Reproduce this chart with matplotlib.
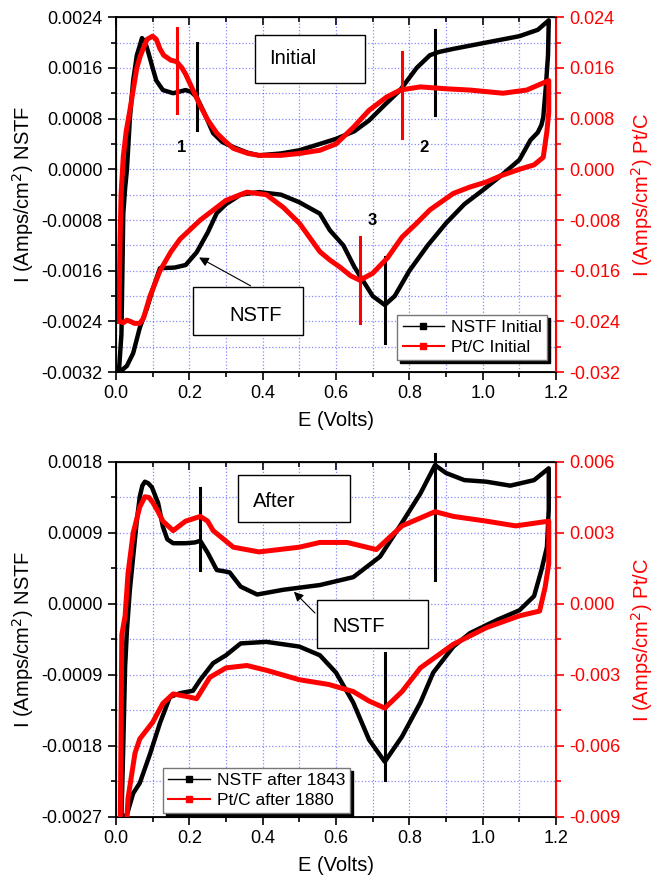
import numpy as np
import matplotlib
matplotlib.use("Agg")
import matplotlib.pyplot as plt
from matplotlib.lines import Line2D
from matplotlib.patches import Rectangle
from matplotlib.ticker import FuncFormatter, FormatStrFormatter, MultipleLocator

plt.rcParams['font.family'] = ['Liberation Sans', 'DejaVu Sans']

# ---- top panel data (NSTF on left axis, Pt/C on right axis) ----
nstf_i_x = [0.008, 0.015, 0.02, 0.025, 0.03, 0.038, 0.047, 0.057, 0.065, 0.071, 0.08, 0.088, 0.10, 0.11,
            0.128, 0.156, 0.19, 0.205, 0.22, 0.24, 0.265, 0.29, 0.32, 0.36, 0.39, 0.45, 0.5, 0.556, 0.6,
            0.65, 0.69, 0.73, 0.775, 0.82, 0.856, 0.88, 0.92, 1.01, 1.10, 1.15, 1.18,
            1.178, 1.172, 1.165, 1.16, 1.15, 1.13, 1.1, 1.05, 1.0, 0.95, 0.9, 0.85, 0.8, 0.76, 0.733, 0.7,
            0.65, 0.62, 0.583, 0.556, 0.5, 0.45, 0.39, 0.34, 0.3, 0.275, 0.25, 0.22, 0.19, 0.16, 0.12,
            0.1, 0.084, 0.065, 0.047, 0.03, 0.01]
nstf_i_y = [-0.0032, -0.0026, -0.0007, -0.0003, 0.0, 0.0008, 0.0014, 0.0018, 0.00195, 0.00207, 0.0020,
            0.00185, 0.0016, 0.0014, 0.00125, 0.0012, 0.00125, 0.00122, 0.00114, 0.0009, 0.00057, 0.00043,
            0.00035, 0.00026, 0.00022, 0.00025, 0.0003, 0.0004, 0.00048, 0.0006, 0.00077, 0.001, 0.00125,
            0.0016, 0.0018, 0.00185, 0.0019, 0.002, 0.0021, 0.0022, 0.00235,
            0.0018, 0.0013, 0.00082, 0.0007, 0.00058, 0.00046, 0.00015, -0.0001, -0.00033, -0.00055,
            -0.00085, -0.0012, -0.0016, -0.002, -0.00214, -0.002, -0.00154, -0.0012, -0.00096, -0.0007,
            -0.00052, -0.0004, -0.00036, -0.0004, -0.00055, -0.00069, -0.001, -0.00131, -0.00151,
            -0.00155, -0.00156, -0.0019, -0.0022, -0.0025, -0.0029, -0.0031, -0.0032]

ptc_i_x = [0.008, 0.011, 0.014, 0.02, 0.028, 0.038, 0.047, 0.057, 0.066, 0.074, 0.085, 0.10, 0.11, 0.12,
           0.13, 0.15, 0.165, 0.18, 0.19, 0.21, 0.23, 0.25, 0.275, 0.30, 0.32, 0.36, 0.39, 0.45, 0.50,
           0.556, 0.6, 0.647, 0.69, 0.738, 0.775, 0.83, 0.9, 0.965, 1.055, 1.12, 1.18,
           1.18, 1.175, 1.165, 1.14, 1.10, 1.05, 1.01, 0.965, 0.92, 0.856, 0.82, 0.78, 0.74, 0.70, 0.665,
           0.64, 0.61, 0.583, 0.556, 0.5, 0.456, 0.41, 0.357, 0.30, 0.23, 0.175, 0.15, 0.12, 0.093, 0.075,
           0.065, 0.05, 0.04, 0.03, 0.02, 0.011]
ptc_i_y = [-0.024, -0.012, -0.004, 0.002, 0.006, 0.0093, 0.0125, 0.016, 0.0178, 0.019, 0.0205, 0.021,
           0.0205, 0.019, 0.018, 0.0172, 0.017, 0.016, 0.015, 0.0125, 0.010, 0.0078, 0.0057, 0.0043,
           0.0033, 0.0025, 0.0022, 0.0022, 0.0025, 0.003, 0.004, 0.0066, 0.0093, 0.0114, 0.0125, 0.013,
           0.0127, 0.0125, 0.012, 0.0125, 0.014,
           0.009, 0.006, 0.0019, 0.0007, 0.0, -0.001, -0.002, -0.0028, -0.0038, -0.0064, -0.0085, -0.0107,
           -0.014, -0.0164, -0.0175, -0.0168, -0.0154, -0.0143, -0.013, -0.0085, -0.006, -0.004, -0.0036,
           -0.0049, -0.008, -0.011, -0.013, -0.016, -0.020, -0.0235, -0.0243, -0.0243, -0.024, -0.0238,
           -0.0242, -0.024]

# ---- bottom panel data ----
nstf_a_x = [0.015, 0.02, 0.025, 0.03, 0.038, 0.047, 0.057, 0.065, 0.072, 0.079, 0.088, 0.098, 0.115,
            0.128, 0.14, 0.156, 0.19, 0.215, 0.23, 0.25, 0.275, 0.3, 0.31, 0.34, 0.385, 0.456, 0.556,
            0.647, 0.72, 0.78, 0.83, 0.87, 0.90, 0.95, 1.01, 1.075, 1.14, 1.18,
            1.18, 1.175, 1.16, 1.14, 1.10, 1.04, 0.965, 0.92, 0.865, 0.83, 0.78, 0.733, 0.69, 0.647, 0.60,
            0.556, 0.50, 0.41, 0.34, 0.30, 0.265, 0.23, 0.21, 0.175, 0.147, 0.12, 0.093, 0.065, 0.047,
            0.03, 0.018]
nstf_a_y = [-0.0027, -0.0018, -0.0008, -0.00033, 0.00018, 0.0006, 0.00106, 0.00136, 0.0015, 0.00155,
            0.00153, 0.00148, 0.00128, 0.00098, 0.00082, 0.00077, 0.00077, 0.00078, 0.0008, 0.00065,
            0.00043, 0.00041, 0.0004, 0.00022, 0.00012, 0.00018, 0.00024, 0.00034, 0.0006, 0.00103,
            0.0014, 0.00176, 0.00166, 0.00157, 0.00155, 0.0015, 0.00157, 0.00172,
            0.0012, 0.00072, 0.00043, 0.0001, -0.00008, -0.0002, -0.00037, -0.00054, -0.00087, -0.00125,
            -0.00168, -0.002, -0.00172, -0.00125, -0.00087, -0.00065, -0.00054, -0.00048, -0.0005,
            -0.00065, -0.00075, -0.00096, -0.0011, -0.00113, -0.00118, -0.00151, -0.0019, -0.00227,
            -0.0024, -0.00267, -0.0027]

ptc_a_x = [0.012, 0.016, 0.025, 0.033, 0.047, 0.065, 0.079, 0.09, 0.10, 0.115, 0.128, 0.156, 0.19, 0.23,
           0.25, 0.265, 0.32, 0.39, 0.5, 0.556, 0.63, 0.71, 0.78, 0.87, 0.92, 1.01, 1.09, 1.18,
           1.18, 1.17, 1.155, 1.10, 1.01, 0.92, 0.83, 0.78, 0.733, 0.69, 0.647, 0.58, 0.50, 0.41, 0.357,
           0.30, 0.256, 0.22, 0.19, 0.156, 0.128, 0.10, 0.065, 0.052, 0.044, 0.033, 0.03]
ptc_a_y = [-0.009, -0.0013, -0.0005, 0.0013, 0.003, 0.0041, 0.00453, 0.0045, 0.0043, 0.0039, 0.0035,
           0.0031, 0.0035, 0.0037, 0.0035, 0.0031, 0.0024, 0.0022, 0.0024, 0.0026, 0.0026, 0.0023, 0.0033,
           0.0039, 0.0037, 0.0035, 0.0033, 0.0035,
           0.0017, 0.0007, -0.0003, -0.0005, -0.001, -0.0017, -0.0027, -0.0037, -0.0044, -0.0041, -0.0037,
           -0.0034, -0.0032, -0.0028, -0.0026, -0.0027, -0.0031, -0.004, -0.0039, -0.0038, -0.0042,
           -0.005, -0.0057, -0.0063, -0.0071, -0.0082, -0.009]

# peak marker bars: (x, low, high)
bars_top_black = [(0.22, 0.00062, 0.0020), (0.87, 0.00085, 0.0022), (0.733, -0.00274, -0.00139)]
bars_top_red = [(0.166, 0.0089, 0.0223), (0.78, 0.005, 0.0185), (0.665, -0.0243, -0.0107)]
bars_bot_black = [(0.23, 0.00043, 0.00147), (0.87, 0.0003, 0.0019), (0.733, -0.00223, -0.00062)]

left_ticks_top = np.round(np.arange(-0.0032, 0.00241, 0.0008), 5)
right_ticks_top = np.round(np.arange(-0.032, 0.0241, 0.008), 4)
left_ticks_bot = np.round(np.arange(-0.0027, 0.00181, 0.0009), 5)
right_ticks_bot = np.round(np.arange(-0.009, 0.00601, 0.003), 4)

TICK_FS = 13
LAB_FS = 14.5

fig = plt.figure(figsize=(6.55, 8.84), dpi=100)
fig.set_facecolor('w')
ax_top = fig.add_axes([0.177, 0.579, 0.672, 0.4016])
ax_bot = fig.add_axes([0.177, 0.0758, 0.672, 0.4016])


def fmt(n):
    return FuncFormatter(lambda v, p: f'{round(v, 6) + 0.0:.{n}f}')


def setup(ax, lticks, rticks, ln, rn):
    ax2 = ax.twinx()
    ax.set_xlim(0, 1.2)
    ax.set_ylim(lticks[0], lticks[-1])
    ax2.set_ylim(rticks[0], rticks[-1])
    ax.set_xticks(np.round(np.arange(0, 1.21, 0.2), 1))
    ax.xaxis.set_minor_locator(MultipleLocator(0.1))
    ax.set_yticks(lticks)
    ax.yaxis.set_minor_locator(MultipleLocator((lticks[1] - lticks[0]) / 2))
    ax2.set_yticks(rticks)
    ax2.yaxis.set_minor_locator(MultipleLocator((rticks[1] - rticks[0]) / 2))
    ax.xaxis.set_major_formatter(FormatStrFormatter('%.1f'))
    ax.yaxis.set_major_formatter(fmt(ln))
    ax2.yaxis.set_major_formatter(fmt(rn))
    ax.tick_params(which='both', direction='out', labelsize=TICK_FS, width=1.2)
    ax.tick_params(which='major', length=6)
    ax.tick_params(which='minor', length=3.5)
    ax2.tick_params(which='both', direction='out', colors='red', labelsize=TICK_FS, width=1.2)
    ax2.tick_params(which='major', length=6)
    ax2.tick_params(which='minor', length=3.5)
    ax2.spines['right'].set_color('red')
    ax2.spines['right'].set_linewidth(1.5)
    for s in ['left', 'top', 'bottom']:
        ax.spines[s].set_linewidth(1.3)
    top = ax.secondary_xaxis('top')
    top.set_xticks(np.round(np.arange(0, 1.21, 0.2), 1))
    top.xaxis.set_minor_locator(MultipleLocator(0.1))
    top.tick_params(which='both', direction='in', labeltop=False, width=1.2)
    top.tick_params(which='major', length=6)
    top.tick_params(which='minor', length=3.5)
    ax.grid(True, which='both', color='#3a3aff', linestyle=':', linewidth=0.9, alpha=0.6)
    ax.set_xlabel('E (Volts)', fontsize=LAB_FS, labelpad=6)
    ax.set_ylabel('I (Amps/cm$^2$) NSTF', fontsize=LAB_FS, labelpad=4)
    ax2.set_ylabel('I (Amps/cm$^2$) Pt/C', fontsize=LAB_FS, color='red', labelpad=6)
    return ax2


def box(ax2, ax, x0, y0, w, h, label, tx, ty):
    ax2.add_patch(Rectangle((x0, y0), w, h, transform=ax.transData, facecolor='white',
                            edgecolor='black', linewidth=1.0, zorder=5))
    ax2.text(tx, ty, label, transform=ax.transData, fontsize=14.5, ha='left', va='center', zorder=6)


# ---------------- top panel ----------------
ax2t = setup(ax_top, left_ticks_top, right_ticks_top, 4, 3)
ax_top.plot(nstf_i_x, nstf_i_y, color='black', lw=3.2, solid_joinstyle='round')
ax2t.plot(ptc_i_x, ptc_i_y, color='red', lw=3.6, solid_joinstyle='round')
for x, lo, hi in bars_top_black:
    ax_top.plot([x, x], [lo, hi], color='black', lw=2.2)
for x, lo, hi in bars_top_red:
    ax2t.plot([x, x], [lo, hi], color='red', lw=2.2)
for lab, x, y in [('1', 0.18, 0.00035), ('2', 0.84, 0.00035), ('3', 0.70, -0.0008)]:
    ax_top.text(x, y, lab, fontsize=12, fontweight='bold', ha='center', va='center')
box(ax2t, ax_top, 0.38, 0.00136, 0.30, 0.00076, 'Initial', 0.417, 0.00174)
box(ax2t, ax_top, 0.21, -0.00262, 0.30, 0.00076, 'NSTF', 0.31, -0.0023)
ax2t.annotate('', xy=(0.22, -0.00137), xytext=(0.374, -0.00186), xycoords=ax_top.transData,
              textcoords=ax_top.transData,
              arrowprops=dict(arrowstyle='-|>', color='black', lw=0.8, mutation_scale=14), zorder=6)
h_top = [Line2D([], [], color='black', lw=1, marker='s', ms=4),
         Line2D([], [], color='red', lw=1.5, marker='s', ms=4)]
leg = ax2t.legend(h_top, ['NSTF Initial', 'Pt/C Initial'], loc='lower right',
                  bbox_to_anchor=(0.98, 0.034), fontsize=12.5, frameon=True, fancybox=False,
                  edgecolor='#777777', framealpha=1, shadow={'color': 'black', 'alpha': 1},
                  handlelength=2.4, borderpad=0.3, labelspacing=0.25, handletextpad=0.4,
                  borderaxespad=0)
leg.set_zorder(10)

# ---------------- bottom panel ----------------
ax2b = setup(ax_bot, left_ticks_bot, right_ticks_bot, 4, 3)
ax_bot.plot(nstf_a_x, nstf_a_y, color='black', lw=3.2, solid_joinstyle='round')
ax2b.plot(ptc_a_x, ptc_a_y, color='red', lw=3.6, solid_joinstyle='round')
for x, lo, hi in bars_bot_black:
    ax_bot.plot([x, x], [lo, hi], color='black', lw=2.2, clip_on=False)
box(ax2b, ax_bot, 0.333, 0.00104, 0.305, 0.0006, 'After', 0.374, 0.0013)
box(ax2b, ax_bot, 0.548, -0.00056, 0.302, 0.00061, 'NSTF', 0.59, -0.00029)
ax2b.annotate('', xy=(0.48, 0.00018), xytext=(0.548, -0.00014), xycoords=ax_bot.transData,
              textcoords=ax_bot.transData,
              arrowprops=dict(arrowstyle='-|>', color='black', lw=0.8, mutation_scale=14), zorder=6)
h_bot = [Line2D([], [], color='black', lw=1, marker='s', ms=4),
         Line2D([], [], color='red', lw=1.5, marker='s', ms=4)]
leg = ax2b.legend(h_bot, ['NSTF after 1843', 'Pt/C after 1880'], loc='lower left',
                  bbox_to_anchor=(0.107, 0.011), fontsize=12.5, frameon=True, fancybox=False,
                  edgecolor='#777777', framealpha=1, shadow={'color': 'black', 'alpha': 1},
                  handlelength=2.4, borderpad=0.3, labelspacing=0.25, handletextpad=0.4,
                  borderaxespad=0)
leg.set_zorder(10)

fig.savefig('out.png', dpi=100)
